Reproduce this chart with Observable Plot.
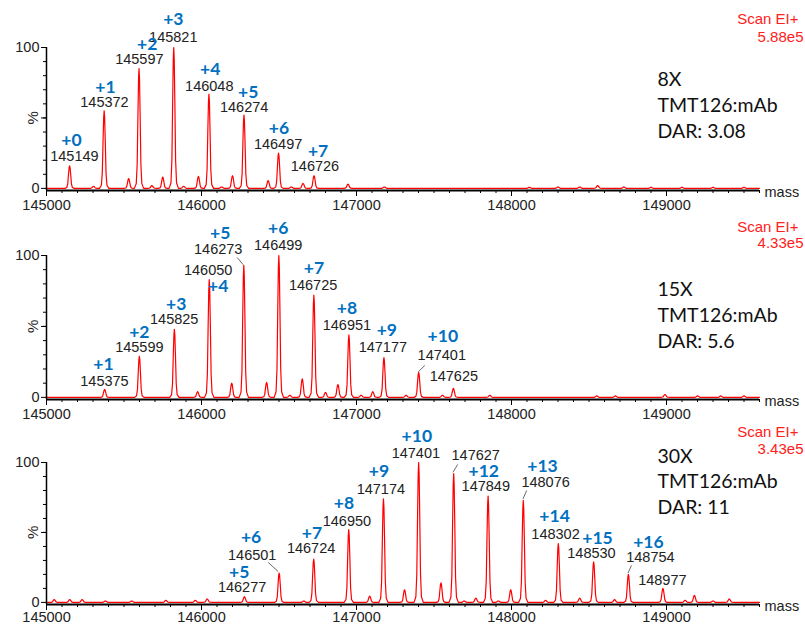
<!DOCTYPE html>
<html><head><meta charset="utf-8">
<script src="https://cdn.jsdelivr.net/npm/d3@7"></script>
<script src="https://cdn.jsdelivr.net/npm/@observablehq/plot@0.6"></script>
<style>
body{margin:0;background:#fff;}
#wrap{position:relative;width:805px;height:625px;overflow:hidden;}
#wrap svg{position:absolute;left:0;overflow:visible;background:transparent;}
</style></head><body><div id="wrap"></div>
<script>
const massDomain = [145000, 149600];
const majorTicks = [145000, 146000, 147000, 148000, 149000];

// ---- Panel 1: 8X ----
const p1Mass = [145149,145372,145597,145821,146048,146274,146497,146726];
const p1Pct  = [16,55,85,100,67,52,25,9];
const p1MinorMass = [145303,145530,145680,145750,145885,145980,146130,146200,146430,146580,146655,146945,147180,148115,148300,148440,148556,148725,148900,149100,149300,149500];
const p1MinorPct  = [1.5,7,2,8,1.5,8.5,1,9,5.5,1,3.5,3,1,0.8,1,1,2,1,0.8,0.8,0.8,0.8];
const p1NumX = [145180,145374,145599,145818,146050,146275,146494,146732];
const p1NumY = [22.7,61,91.5,107,72.3,57.4,31.2,15.6];
const p1DarText = ["+0","+1","+2","+3","+4","+5","+6","+7"];
const p1DarX = [145161,145380,145650,145818,146056,146301,146500,146752];
const p1DarY = [34,71.6,102,120,84.4,68,42.6,26.2];
const p1Leaders = [];
const p1Note = ["8X","TMT126:mAb","DAR: 3.08"];
const p1Scale = "5.88e5";

// ---- Panel 2: 15X ----
const p2Mass = [145375,145599,145825,146050,146273,146499,146725,146951,147177,147401,147625];
const p2Pct  = [5.6,29,48,83,93,100,72,44,28,17.6,6.3];
const p2MinorMass = [145975,146195,146420,146570,146650,146800,146880,147030,147105,147320,147555,147860,148550,148670,148990,149200,149350,149500];
const p2MinorPct  = [4,10,10.5,1.5,13,3.5,9,1.5,4,1.5,1.5,1.5,1,1,2,1,1,1];
const p2NumX = [145374,145599,145824,146043,146108,146495,146720,146938,147170,147550,147628];
const p2NumY = [11.3,35.2,54.9,89.4,104,107,78.9,50.7,35.2,29.6,14.8];
const p2DarText = ["+1","+2","+3","+4","+5","+6","+7","+8","+9","+10"];
const p2DarX = [145367,145599,145837,146108,146121,146495,146726,146938,147196,147557];
const p2DarY = [23.2,45.8,65.5,78.2,115.5,119,90.8,62.7,47.2,43];
const p2Leaders = [[146230,98.6,146269,93.5],[147441,22.5,147398,18]];
const p2Note = ["15X","TMT126:mAb","DAR: 5.6"];
const p2Scale = "4.33e5";

// ---- Panel 3: 30X ----
const p3Mass = [146277,146501,146724,146950,147174,147401,147627,147849,148076,148302,148530,148754,148977];
const p3Pct  = [4,21,31,52,74,100,92,76,73,42,29,20,10];
const p3MinorMass = [145050,145150,145230,145380,145550,145770,145960,146037,146660,147085,147310,147545,147695,147770,147915,147995,148220,148440,148665,149120,149180,149300,149405];
const p3MinorPct  = [2,2,2,1,1,1.5,1.5,2.5,1,4.5,9,14,1,3,1,9,1.5,3,2,1.5,5,1,2.5];
const p3NumX = [146262,146327,146707,146938,147157,147383,147769,147834,148220,148284,148516,148896,148973];
const p3NumY = [10.7,33.6,38.6,57.9,80.7,106.4,105,82.9,85.7,48.6,35,32.1,15.7];
const p3DarText = ["+5","+6","+7","+8","+9","+10","+12","+13","+14","+15","+16"];
const p3DarX = [146243,146320,146713,146919,147145,147389,147821,148200,148278,148555,148883];
const p3DarY = [21.4,46.4,49.3,70.7,93.6,118.6,93.6,97.1,61.4,45.7,42.9];
const p3Leaders = [[146430,28.6,146495,22],[147653,98.6,147622,93],[148098,80,148074,74],[148774,26.4,148752,21]];
const p3Note = ["30X","TMT126:mAb","DAR: 11"];
const p3Scale = "3.43e5";

// peak profile (shape of a single peak, relative to its apex)
const profileOffset = [-30,-18,-12,-7,-3,0,3,7,12,18,30];
const profileShape  = [0,0.04,0.2,0.62,0.92,1,0.92,0.62,0.2,0.04,0];

function spectrum(mass, pct, minorMass, minorPct) {
  const peaks = mass.map((m,i)=>({m, h:pct[i]})).concat(minorMass.map((m,i)=>({m, h:minorPct[i]})));
  peaks.sort((a,b)=>a.m-b.m);
  const pts = [{m: massDomain[0], p: 0}];
  for (const pk of peaks) profileOffset.forEach((o,j)=>pts.push({m: pk.m+o, p: pk.h*profileShape[j]}));
  pts.push({m: massDomain[1], p: 0});
  return pts;
}

const panels = [
  {top:0,   height:210, mt:47, mb:20, pad:3, mass:p1Mass, pct:p1Pct, mm:p1MinorMass, mp:p1MinorPct, nx:p1NumX, ny:p1NumY, dt:p1DarText, dx:p1DarX, dy:p1DarY, lead:p1Leaders, note:p1Note, noteDy:[38,64,90], scale:p1Scale, redDy:[-28,-10]},
  {top:210, height:210, mt:45, mb:21, pad:3, mass:p2Mass, pct:p2Pct, mm:p2MinorMass, mp:p2MinorPct, nx:p2NumX, ny:p2NumY, dt:p2DarText, dx:p2DarX, dy:p2DarY, lead:p2Leaders, note:p2Note, noteDy:[40,66,92], scale:p2Scale, redDy:[-28,-12]},
  {top:418, height:207, mt:44, mb:21, pad:1, mass:p3Mass, pct:p3Pct, mm:p3MinorMass, mp:p3MinorPct, nx:p3NumX, ny:p3NumY, dt:p3DarText, dx:p3DarX, dy:p3DarY, lead:p3Leaders, note:p3Note, noteDy:[0,25,51], scale:p3Scale, redDy:[-30,-13]}
];

const wrap = document.getElementById("wrap");
const Y0 = -1.5;
for (const c of panels) {
  const pts = spectrum(c.mass, c.pct, c.mm, c.mp);
  const nums = c.mass.map((m,i)=>({x:c.nx[i], y:c.ny[i], t:String(m)}));
  const dars = c.dt.map((t,i)=>({x:c.dx[i], y:c.dy[i], t}));
  const leads = c.lead.map(d=>({x1:d[0], y1:d[1], x2:d[2], y2:d[3]}));
  const noteMarks = c.note.map((t,i)=>Plot.text([t], {frameAnchor:"top-left", dx:611, dy:c.noteDy[i], textAnchor:"start", lineAnchor:"bottom", fontFamily:"Lato, 'Open Sans', sans-serif", fontSize:19.5, fill:"#111"}));
  const plot = Plot.plot({
    width: 805, height: c.height,
    marginLeft: 46, marginRight: 46, marginTop: c.mt, marginBottom: c.mb,
    x: {domain: massDomain, axis: null},
    y: {domain: [Y0, 100], axis: null},
    style: {fontFamily: "'Liberation Sans', Arial, sans-serif", fontSize: "14px", background: "transparent", overflow: "visible", color: "#000"},
    marks: [
      Plot.line(pts, {x:"m", y:"p", stroke:"#ff0000", strokeWidth:1.2}),
      Plot.ruleY([Y0], {stroke:"#000", strokeWidth:2}),
      Plot.ruleX([massDomain[0]], {y1:Y0, y2:100, stroke:"#000", strokeWidth:1.5}),
      Plot.axisX({ticks: d3.range(145000, 149601, 100), tickSize:3, tickFormat:()=>"", label:null}),
      Plot.axisX({ticks: majorTicks, tickSize:6, tickPadding:c.pad, tickFormat:d3.format("d"), label:null, fontSize:14.5, fill:"#222"}),
      Plot.axisY({ticks:[0,100], tickSize:5, tickPadding:2, tickFormat:d3.format("d"), label:null, fontSize:14.5, fill:"#222"}),
      Plot.axisY({ticks:[50], tickSize:5, tickFormat:()=>"", label:null}),
      Plot.axisY({ticks:d3.range(10,100,10), tickSize:3, tickFormat:()=>"", label:null}),
      Plot.text(["%"], {x:massDomain[0], y:50, dx:-13, rotate:-90, fontSize:15, fill:"#222"}),
      Plot.text(["mass"], {x:massDomain[1], y:Y0, dx:5, dy:2, textAnchor:"start", lineAnchor:"middle", fontSize:14.5, fill:"#222"}),
      Plot.link(leads, {x1:"x1", y1:"y1", x2:"x2", y2:"y2", stroke:"#444", strokeWidth:0.8}),
      Plot.text(nums, {x:"x", y:"y", text:"t", fontSize:14.5, fill:"#222", lineAnchor:"middle"}),
      Plot.text(dars, {x:"x", y:"y", text:"t", fontSize:17.5, fontWeight:"bold", fontFamily:"Lato, 'Open Sans', sans-serif", fill:"#0070c0", lineAnchor:"middle"}),
      ...noteMarks,
      Plot.text(["Scan EI+"], {frameAnchor:"top-right", dx:39, dy:c.redDy[0], textAnchor:"end", lineAnchor:"middle", fontSize:15, fill:"#ff2020"}),
      Plot.text([c.scale], {frameAnchor:"top-right", dx:44, dy:c.redDy[1], textAnchor:"end", lineAnchor:"middle", fontSize:15, fill:"#ff2020"})
    ]
  });
  plot.style.top = c.top + "px";
  wrap.appendChild(plot);
}
</script>
</body></html>
